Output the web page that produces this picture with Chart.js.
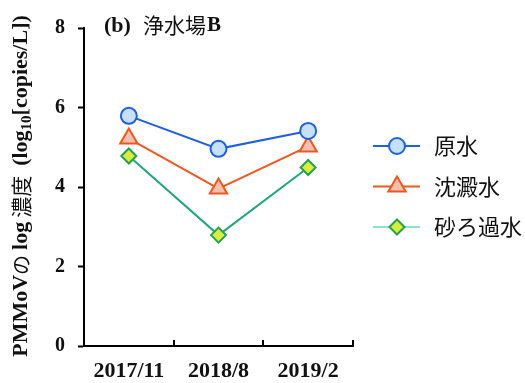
<!DOCTYPE html>
<html>
<head>
<meta charset="utf-8">
<script src="https://cdn.jsdelivr.net/npm/chart.js@4/dist/chart.umd.min.js"></script>
<style>
  html, body { margin: 0; padding: 0; background: #fff; }
  #wrap { width: 525px; height: 383px; }
</style>
</head>
<body>
<div id="wrap"><canvas id="c" width="525" height="383"></canvas></div>
<script>
// Sampling dates
const categories = ['2017/11', '2018/8', '2019/2'];
// log10 concentration [copies/L]
const rawWater = [5.79, 4.96, 5.41];
const settledWater = [5.22, 3.96, 5.02];
const filteredWater = [4.78, 2.79, 4.49];
// Series names
const seriesNames = ['原水', '沈澱水', '砂ろ過水'];
// Y-axis range and tick spacing
const yMin = 0, yMax = 8, yStep = 2;

const SERIF = '"Liberation Serif", "Times New Roman", serif';
const CJK = '"Noto Sans CJK JP", sans-serif';

const styles = [
  { line: '#1f5fe0', legendLine: '#1f5fe0', border: '#1f5fe0', fill: '#c6e0f7', point: 'circle', r: 8 },
  { line: '#f0571f', legendLine: '#f0571f', border: '#f0571f', fill: '#f6bfae', point: 'triangle', r: 10 },
  { line: '#22a67c', legendLine: '#8ae4cc', border: '#2a9f52', fill: '#d6ef3e', point: 'rectRot', r: 7.5 }
];
const values = [rawWater, settledWater, filteredWater];

function drawMarker(ctx, st, x, y) {
  ctx.save();
  ctx.fillStyle = st.fill;
  ctx.strokeStyle = st.border;
  ctx.lineWidth = 2;
  if (Chart.helpers && Chart.helpers.drawPoint) {
    Chart.helpers.drawPoint(ctx, { pointStyle: st.point, radius: st.r, borderWidth: 2, rotation: 0 }, x, y);
  } else {
    ctx.beginPath();
    if (st.point === 'circle') {
      ctx.arc(x, y, st.r, 0, Math.PI * 2);
    } else if (st.point === 'triangle') {
      for (let k = 0; k < 3; k++) {
        const a = k * 2 * Math.PI / 3;
        const px = x + Math.sin(a) * st.r, py = y - Math.cos(a) * st.r;
        k ? ctx.lineTo(px, py) : ctx.moveTo(px, py);
      }
    } else {
      ctx.moveTo(x, y - st.r); ctx.lineTo(x + st.r, y);
      ctx.lineTo(x, y + st.r); ctx.lineTo(x - st.r, y);
    }
    ctx.closePath();
    ctx.fill(); ctx.stroke();
  }
  ctx.restore();
}

// Draw a run of text pieces with different fonts, centred on x
function drawRun(ctx, pieces, x, y) {
  let total = 0;
  pieces.forEach(p => { ctx.font = p.font; p.w = ctx.measureText(p.text).width; total += p.w + (p.gap || 0); });
  let cx = x - total / 2;
  pieces.forEach(p => {
    ctx.font = p.font;
    ctx.fillText(p.text, cx, y + (p.dy || 0));
    cx += p.w + (p.gap || 0);
  });
}

const decorations = {
  id: 'decorations',
  afterDraw(chart) {
    const ctx = chart.ctx;
    const xs = chart.scales.x;
    const area = chart.chartArea;

    // Inward tick marks on the category axis, at category boundaries
    ctx.save();
    ctx.strokeStyle = '#000';
    ctx.lineWidth = 2;
    for (let i = 0; i < categories.length; i++) {
      const px = Math.round(xs.getPixelForValue(i + 0.5));
      ctx.beginPath();
      ctx.moveTo(px, area.bottom);
      ctx.lineTo(px, area.bottom - 6);
      ctx.stroke();
    }
    ctx.restore();

    // Panel title
    ctx.save();
    ctx.fillStyle = '#111';
    ctx.textBaseline = 'middle';
    ctx.textAlign = 'left';
    ctx.font = 'bold 22px ' + SERIF;
    ctx.fillText('(b)', 104, 26);
    ctx.font = '21px ' + CJK;
    ctx.fillText('浄水場', 143, 25);
    const w = ctx.measureText('浄水場').width;
    ctx.font = 'bold 21px ' + SERIF;
    ctx.fillText('B', 143 + w + 1, 26);
    ctx.restore();

    // Vertical axis title
    ctx.save();
    ctx.fillStyle = '#111';
    ctx.textBaseline = 'middle';
    ctx.textAlign = 'left';
    ctx.translate(21, 186);
    ctx.rotate(-Math.PI / 2);
    const B = 'bold 22px ' + SERIF;
    drawRun(ctx, [
      { text: 'PMMoV', font: B },
      { text: 'の', font: '20px ' + CJK, gap: 5 },
      { text: 'log', font: B, gap: 4 },
      { text: '濃度', font: '21px ' + CJK, gap: 10 },
      { text: '(log', font: B },
      { text: '10', font: 'bold 15px ' + SERIF, dy: 6 },
      { text: '[copies/L])', font: B }
    ], 0, 0);
    ctx.restore();

    // Legend: line with centred marker, then the series name
    ctx.save();
    chart.data.datasets.forEach((ds, i) => {
      const st = styles[i];
      const y = 146 + i * 40.5;
      ctx.strokeStyle = st.legendLine;
      ctx.lineWidth = 2;
      ctx.beginPath();
      ctx.moveTo(373, y);
      ctx.lineTo(420, y);
      ctx.stroke();
      drawMarker(ctx, st, 397, y);
      ctx.fillStyle = '#111';
      ctx.font = '22px ' + CJK;
      ctx.textBaseline = 'middle';
      ctx.textAlign = 'left';
      ctx.fillText(ds.label, 434, y);
    });
    ctx.restore();
  }
};

const datasets = values.map((v, i) => ({
  label: seriesNames[i],
  data: v,
  borderColor: styles[i].line,
  borderWidth: 2,
  backgroundColor: styles[i].fill,
  pointStyle: styles[i].point,
  pointRadius: styles[i].r,
  pointHoverRadius: styles[i].r,
  pointBorderColor: styles[i].border,
  pointBackgroundColor: styles[i].fill,
  pointBorderWidth: 2,
  tension: 0,
  clip: false
}));

new Chart(document.getElementById('c'), {
  type: 'line',
  data: { labels: categories, datasets },
  options: {
    responsive: false,
    animation: false,
    events: [],
    layout: { padding: { left: 0, right: 172, top: 28, bottom: 0 } },
    plugins: { legend: { display: false }, tooltip: { enabled: false }, title: { display: false } },
    scales: {
      x: {
        type: 'category',
        offset: true,
        grid: { display: true, drawOnChartArea: false, drawTicks: false, offset: true, color: '#000' },
        border: { display: true, color: '#000', width: 2 },
        ticks: { color: '#111', font: { family: SERIF, size: 22, weight: 'bold' }, padding: 12, maxRotation: 0 },
        afterFit(s) { s.height = 37; }
      },
      y: {
        min: yMin,
        max: yMax,
        ticks: { stepSize: yStep, color: '#111', font: { family: SERIF, size: 20, weight: 'bold' }, padding: 13 },
        grid: { display: true, drawOnChartArea: false, drawTicks: true, tickLength: 6, tickWidth: 2, color: '#000' },
        border: { display: true, color: '#000', width: 2 },
        afterFit(s) { s.width = 84; }
      }
    }
  },
  plugins: [decorations]
});
</script>
</body>
</html>
